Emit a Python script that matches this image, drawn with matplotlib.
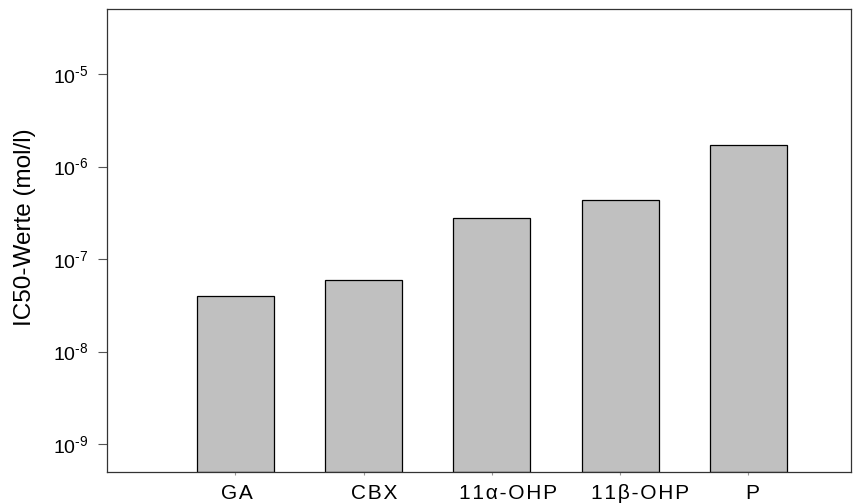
import matplotlib
matplotlib.use("Agg")
import matplotlib.pyplot as plt
from matplotlib.ticker import FixedLocator, NullLocator

plt.rcParams['font.family'] = ['Liberation Sans', 'DejaVu Sans']
plt.rcParams['mathtext.fontset'] = 'custom'
plt.rcParams['mathtext.rm'] = 'Liberation Sans'
plt.rcParams['mathtext.it'] = 'Liberation Sans'

substances = ["GA", "CBX", "11\u03b1-OHP", "11\u03b2-OHP", "P"]
ic50 = [4.0e-8, 6.0e-8, 2.8e-7, 4.3e-7, 1.73e-6]
yticks = [1e-9, 1e-8, 1e-7, 1e-6, 1e-5]
ytick_labels = [r"$10^{\text{-}9}$", r"$10^{\text{-}8}$", r"$10^{\text{-}7}$",
                r"$10^{\text{-}6}$", r"$10^{\text{-}5}$"]
# labels in the original sit a bit left of the bar centres (hand placed)
label_shift = [-0.11, -0.10, -0.255, -0.225, -0.02]

fig = plt.figure(figsize=(8.63, 5.04), dpi=100)
ax = fig.add_axes([0.124, 0.0635, 0.862, 0.918])

ymin, ymax = 5.0e-10, 5.0e-5
pos = list(range(1, len(substances) + 1))
heights = [v - ymin for v in ic50]
ax.bar(pos, heights, bottom=ymin, width=0.6, color="#c0c0c0",
       edgecolor="black", linewidth=0.9)

ax.set_yscale("log")
ax.set_ylim(ymin, ymax)
ax.set_xlim(0, 5.8)
ax.yaxis.set_major_locator(FixedLocator(yticks))
ax.set_yticklabels(ytick_labels, fontsize=14)
ax.yaxis.set_minor_locator(NullLocator())
ax.set_xticks(pos)
ax.set_xticklabels([])
ax.tick_params(axis="y", direction="out", length=6.5, width=0.8, color="#555555", pad=7)
ax.tick_params(axis="x", direction="out", length=2, width=0.8, color="#999999")

# letter-spaced category labels
for p, name, dx in zip(pos, substances, label_shift):
    ax.text(p + dx, -0.026, "\u200a".join(name), transform=ax.get_xaxis_transform(),
            ha="left", va="top", fontsize=15)

for s in ax.spines.values():
    s.set_linewidth(0.9)
    s.set_color("#333333")

ax.set_ylabel("IC50-Werte (mol/l)", fontsize=17.5)
ax.yaxis.set_label_coords(-0.096, 0.53)

fig.savefig("out.png", dpi=100)
